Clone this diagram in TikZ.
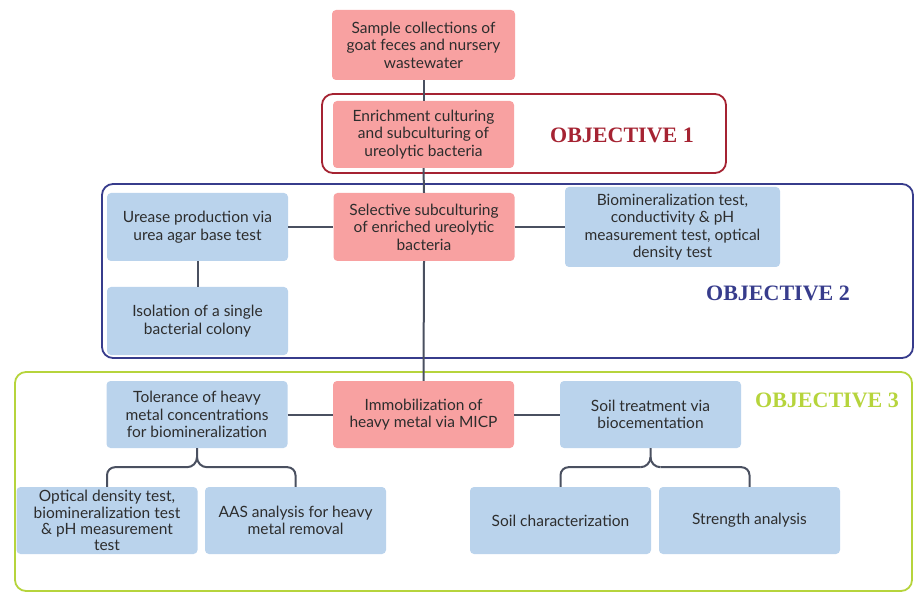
\documentclass[tikz,border=0pt]{standalone}
\usepackage{fontspec}
\setmainfont{Lato}
\newfontfamily\objfont{Liberation Serif}
\usetikzlibrary{calc}
\definecolor{pinkfill}{RGB}{248,161,161}
\definecolor{bluefill}{RGB}{186,211,236}
\definecolor{linec}{RGB}{74,80,96}
\definecolor{objred}{RGB}{165,35,50}
\definecolor{objblue}{RGB}{55,60,140}
\definecolor{objgreen}{RGB}{182,212,60}
\definecolor{txt}{RGB}{45,45,45}
\begin{document}
\begin{tikzpicture}[x=1pt,y=-1pt,
  box/.style={rounded corners=4pt, align=center, inner sep=2pt, text=txt,
    font=\fontsize{15.5}{17.5}\selectfont, minimum width=181pt, minimum height=67pt},
  pinkbox/.style={box, fill=pinkfill},
  bluebox/.style={box, fill=bluefill},
  conn/.style={draw=linec, line width=2pt},
  frame/.style={rounded corners=11pt, line width=1.8pt},
  objlabel/.style={font=\objfont\bfseries\fontsize{22}{24}\selectfont}
]
\useasboundingbox (0,0) rectangle (915,593);
% frames
\draw[frame, draw=objred] (322,94) rectangle (726,173);
\draw[frame, draw=objblue] (102,184) rectangle (913,358);
\draw[frame, draw=objgreen] (15,372) rectangle (912,591);
% nodes
\node[pinkbox, minimum width=183pt, minimum height=70pt] (s1) at (423.5,45) {Sample collections of\\goat feces and nursery\\wastewater};
\node[pinkbox] (e1) at (423.5,134.5) {Enrichment culturing\\and subculturing of\\ureolytic bacteria};
\node[pinkbox, minimum height=68pt] (sel) at (424,227) {Selective subculturing\\of enriched ureolytic\\bacteria};
\node[bluebox, minimum height=68pt] (ure) at (197.5,227) {Urease production via\\urea agar base test};
\node[bluebox, minimum height=68pt] (iso) at (197.5,321) {Isolation of a single\\bacterial colony};
\node[bluebox, minimum width=215pt, minimum height=80pt] (bio) at (672.5,227) {Biomineralization test,\\conductivity \& pH\\measurement test, optical\\density test};
\node[bluebox] (tol) at (197,414.5) {Tolerance of heavy\\metal concentrations\\for biomineralization};
\node[pinkbox] (imm) at (423.5,414.5) {Immobilization of\\heavy metal via MICP};
\node[bluebox] (soil) at (650.5,414.5) {Soil treatment via\\biocementation};
\node[bluebox, font=\fontsize{15.5}{16.2}\selectfont] (opt) at (107,520.5) {Optical density test,\\biomineralization test\\\& pH measurement\\test};
\node[bluebox] (aas) at (295.5,520.5) {AAS analysis for heavy\\metal removal};
\node[bluebox] (sch) at (560.5,520.5) {Soil characterization};
\node[bluebox] (str) at (749.5,520.5) {Strength analysis};
% labels
\node[objlabel, text=objred] (o1) at (622,135) {OBJECTIVE 1};
\node[objlabel, text=objblue] (o2) at (778,293) {OBJECTIVE 2};
\node[objlabel, text=objgreen] (o3) at (827,400) {OBJECTIVE 3};
% connectors
\draw[conn] (s1.south) -- (e1.north);
\draw[conn] (e1.south) -- (sel.north);
\draw[conn] (sel.south) -- (imm.north);
\draw[conn] (ure.east) -- (sel.west);
\draw[conn] (sel.east) -- (bio.west);
\draw[conn] (ure.south) -- (iso.north);
\draw[conn] (tol.east) -- (imm.west);
\draw[conn] (imm.east) -- (soil.west);
% braces
\draw[conn, rounded corners=8pt] (opt.north) |- ($(tol.south)+(-10,19)$);
\draw[conn] ($(tol.south)+(-10,19)$) to[out=0,in=-90] ($(tol.south)+(0,9)$) -- (tol.south);
\draw[conn] ($(tol.south)+(10,19)$) to[out=180,in=-90] ($(tol.south)+(0,9)$);
\draw[conn, rounded corners=8pt] (aas.north) |- ($(tol.south)+(10,19)$);
\draw[conn, rounded corners=8pt] (sch.north) |- ($(soil.south)+(-10,19)$);
\draw[conn] ($(soil.south)+(-10,19)$) to[out=0,in=-90] ($(soil.south)+(0,9)$) -- (soil.south);
\draw[conn] ($(soil.south)+(10,19)$) to[out=180,in=-90] ($(soil.south)+(0,9)$);
\draw[conn, rounded corners=8pt] (str.north) |- ($(soil.south)+(10,19)$);
\end{tikzpicture}
\end{document}
